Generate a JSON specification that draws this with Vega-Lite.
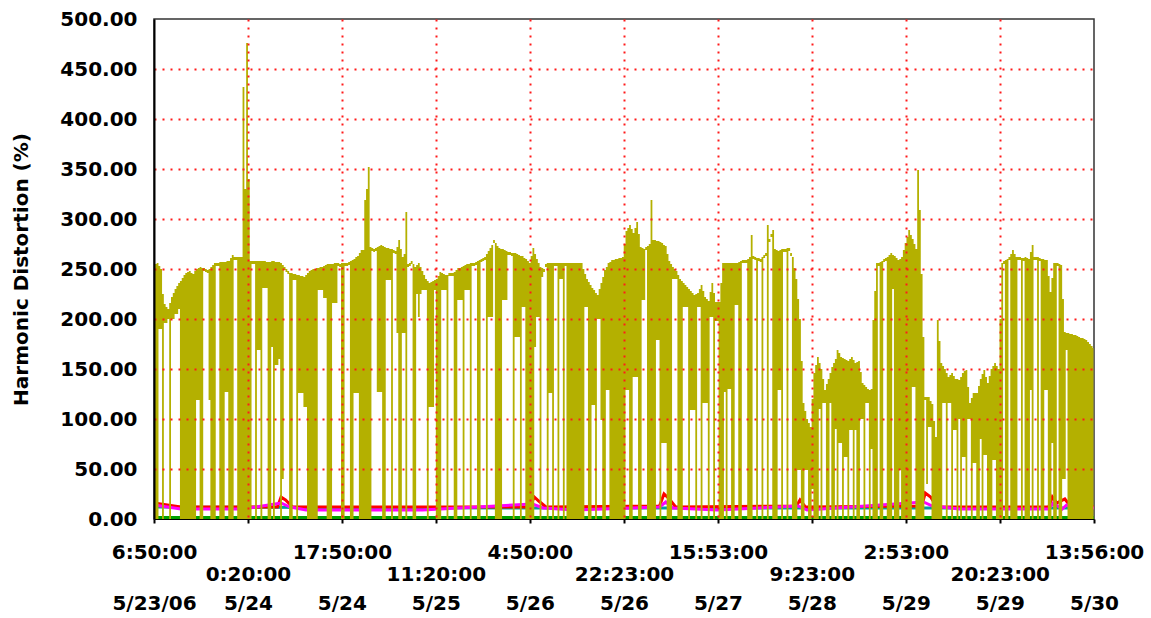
{
  "$schema": "https://vega.github.io/schema/vega-lite/v6.json",
  "width": 940,
  "height": 500,
  "autosize": {"type": "none"},
  "padding": {"left": 154, "top": 19, "right": 57, "bottom": 99},
  "background": "white",
  "config": {
    "view": {"stroke": "#333333", "strokeWidth": 1.5},
    "font": "DejaVu Sans"
  },
  "datasets": {
    "low": [
      {"min": 0, "series": "Navy", "pct": 110}, {"min": 20, "series": "Navy", "pct": 1}, {"min": 10506, "series": "Navy", "pct": 1},
      {"min": 0, "series": "Green", "pct": 1.5}, {"min": 10506, "series": "Green", "pct": 1.5},
      {"min": 0, "series": "Cyan", "pct": 18}, {"min": 40, "series": "Cyan", "pct": 12}, {"min": 4300, "series": "Cyan", "pct": 11}, {"min": 10506, "series": "Cyan", "pct": 11},
      {"min": 0, "series": "Red", "pct": 16}, {"min": 300, "series": "Red", "pct": 12}, {"min": 1380, "series": "Red", "pct": 12}, {"min": 1420, "series": "Red", "pct": 22}, {"min": 1470, "series": "Red", "pct": 19}, {"min": 1550, "series": "Red", "pct": 12},
      {"min": 4200, "series": "Red", "pct": 12}, {"min": 4250, "series": "Red", "pct": 22}, {"min": 4300, "series": "Red", "pct": 18}, {"min": 4380, "series": "Red", "pct": 12},
      {"min": 5650, "series": "Red", "pct": 13}, {"min": 5700, "series": "Red", "pct": 25}, {"min": 5760, "series": "Red", "pct": 20}, {"min": 5830, "series": "Red", "pct": 12},
      {"min": 7180, "series": "Red", "pct": 13}, {"min": 7220, "series": "Red", "pct": 19}, {"min": 7280, "series": "Red", "pct": 12},
      {"min": 8580, "series": "Red", "pct": 13}, {"min": 8620, "series": "Red", "pct": 26}, {"min": 8680, "series": "Red", "pct": 22}, {"min": 8750, "series": "Red", "pct": 12},
      {"min": 10000, "series": "Red", "pct": 12}, {"min": 10040, "series": "Red", "pct": 22}, {"min": 10090, "series": "Red", "pct": 16}, {"min": 10180, "series": "Red", "pct": 20}, {"min": 10250, "series": "Red", "pct": 12}, {"min": 10506, "series": "Red", "pct": 12},
      {"min": 0, "series": "Magenta", "pct": 14}, {"min": 300, "series": "Magenta", "pct": 10}, {"min": 1000, "series": "Magenta", "pct": 10}, {"min": 1420, "series": "Magenta", "pct": 16}, {"min": 1520, "series": "Magenta", "pct": 12}, {"min": 1700, "series": "Magenta", "pct": 9},
      {"min": 3000, "series": "Magenta", "pct": 9}, {"min": 4230, "series": "Magenta", "pct": 15}, {"min": 4350, "series": "Magenta", "pct": 11}, {"min": 4700, "series": "Magenta", "pct": 9},
      {"min": 5650, "series": "Magenta", "pct": 12}, {"min": 5720, "series": "Magenta", "pct": 17}, {"min": 5800, "series": "Magenta", "pct": 11}, {"min": 6300, "series": "Magenta", "pct": 9},
      {"min": 7200, "series": "Magenta", "pct": 13}, {"min": 7300, "series": "Magenta", "pct": 9}, {"min": 8600, "series": "Magenta", "pct": 17}, {"min": 8700, "series": "Magenta", "pct": 13}, {"min": 9000, "series": "Magenta", "pct": 10},
      {"min": 10000, "series": "Magenta", "pct": 10}, {"min": 10050, "series": "Magenta", "pct": 16}, {"min": 10150, "series": "Magenta", "pct": 10}, {"min": 10200, "series": "Magenta", "pct": 14}, {"min": 10300, "series": "Magenta", "pct": 11}, {"min": 10506, "series": "Magenta", "pct": 11}
    ],
    "thd": [
      {"min":0,"pct":255,"lo":0},{"min":20,"pct":255,"lo":0},{"min":40,"pct":256,"lo":0},{"min":60,"pct":253,"lo":190},{"min":80,"pct":250,"lo":190},{"min":100,"pct":225,"lo":0},{"min":120,"pct":215,"lo":196},{"min":140,"pct":212,"lo":196},{"min":160,"pct":210,"lo":200},{"min":180,"pct":216,"lo":0},
      {"min":200,"pct":222,"lo":200},{"min":220,"pct":226,"lo":200},{"min":240,"pct":230,"lo":205},{"min":260,"pct":233,"lo":205},{"min":280,"pct":236,"lo":210},{"min":300,"pct":238,"lo":0},{"min":320,"pct":241,"lo":0},{"min":340,"pct":244,"lo":0},{"min":360,"pct":246,"lo":0},{"min":380,"pct":247,"lo":0},
      {"min":400,"pct":248,"lo":0},{"min":420,"pct":246,"lo":0},{"min":440,"pct":245,"lo":0},{"min":460,"pct":248,"lo":0},{"min":480,"pct":250,"lo":119},{"min":500,"pct":251,"lo":119},{"min":520,"pct":252,"lo":0},{"min":540,"pct":251,"lo":0},{"min":560,"pct":251,"lo":248},{"min":580,"pct":250,"lo":247},
      {"min":600,"pct":249,"lo":246},{"min":620,"pct":250,"lo":119},{"min":640,"pct":252,"lo":0},{"min":660,"pct":254,"lo":0},{"min":680,"pct":256,"lo":0},{"min":700,"pct":256,"lo":253},{"min":720,"pct":256,"lo":253},{"min":740,"pct":257,"lo":0},{"min":760,"pct":257,"lo":0},{"min":780,"pct":257,"lo":0},
      {"min":800,"pct":257,"lo":127},{"min":820,"pct":258,"lo":127},{"min":840,"pct":258,"lo":0},{"min":860,"pct":261,"lo":0},{"min":880,"pct":264,"lo":0},{"min":900,"pct":262,"lo":259},{"min":920,"pct":262,"lo":259},{"min":940,"pct":262,"lo":0},{"min":960,"pct":262,"lo":0},{"min":980,"pct":262,"lo":0},
      {"min":1000,"pct":432,"lo":0},{"min":1020,"pct":330,"lo":0},{"min":1040,"pct":476,"lo":0},{"min":1060,"pct":340,"lo":0},{"min":1080,"pct":258,"lo":0},{"min":1100,"pct":258,"lo":255},{"min":1120,"pct":258,"lo":255},{"min":1140,"pct":258,"lo":0},{"min":1160,"pct":258,"lo":169},{"min":1180,"pct":258,"lo":169},
      {"min":1200,"pct":258,"lo":0},{"min":1220,"pct":258,"lo":231},{"min":1240,"pct":258,"lo":231},{"min":1260,"pct":257,"lo":231},{"min":1280,"pct":257,"lo":0},{"min":1300,"pct":257,"lo":0},{"min":1320,"pct":258,"lo":172},{"min":1340,"pct":258,"lo":0},{"min":1360,"pct":257,"lo":154},{"min":1380,"pct":257,"lo":154},
      {"min":1400,"pct":257,"lo":160},{"min":1420,"pct":256,"lo":0},{"min":1440,"pct":254,"lo":40},{"min":1460,"pct":252,"lo":249},{"min":1480,"pct":250,"lo":247},{"min":1500,"pct":248,"lo":245},{"min":1520,"pct":246,"lo":0},{"min":1540,"pct":246,"lo":0},{"min":1560,"pct":245,"lo":239},{"min":1580,"pct":245,"lo":239},
      {"min":1600,"pct":244,"lo":0},{"min":1620,"pct":244,"lo":126},{"min":1640,"pct":243,"lo":126},{"min":1660,"pct":243,"lo":126},{"min":1680,"pct":242,"lo":112},{"min":1700,"pct":244,"lo":112},{"min":1720,"pct":246,"lo":0},{"min":1740,"pct":248,"lo":0},{"min":1760,"pct":249,"lo":0},{"min":1780,"pct":250,"lo":0},
      {"min":1800,"pct":250,"lo":0},{"min":1820,"pct":251,"lo":0},{"min":1840,"pct":251,"lo":229},{"min":1860,"pct":252,"lo":229},{"min":1880,"pct":252,"lo":229},{"min":1900,"pct":253,"lo":221},{"min":1920,"pct":254,"lo":221},{"min":1940,"pct":255,"lo":0},{"min":1960,"pct":255,"lo":0},{"min":1980,"pct":255,"lo":0},
      {"min":2000,"pct":255,"lo":216},{"min":2020,"pct":256,"lo":216},{"min":2040,"pct":256,"lo":216},{"min":2060,"pct":256,"lo":253},{"min":2080,"pct":255,"lo":252},{"min":2100,"pct":256,"lo":0},{"min":2120,"pct":256,"lo":0},{"min":2140,"pct":256,"lo":253},{"min":2160,"pct":256,"lo":253},{"min":2180,"pct":257,"lo":254},
      {"min":2200,"pct":258,"lo":0},{"min":2220,"pct":259,"lo":0},{"min":2240,"pct":260,"lo":126},{"min":2260,"pct":262,"lo":126},{"min":2280,"pct":263,"lo":126},{"min":2300,"pct":266,"lo":0},{"min":2320,"pct":269,"lo":0},{"min":2340,"pct":269,"lo":0},{"min":2360,"pct":319,"lo":0},{"min":2380,"pct":330,"lo":0},
      {"min":2400,"pct":352,"lo":0},{"min":2420,"pct":272,"lo":0},{"min":2440,"pct":271,"lo":268},{"min":2460,"pct":270,"lo":267},{"min":2480,"pct":271,"lo":268},{"min":2500,"pct":272,"lo":127},{"min":2520,"pct":273,"lo":127},{"min":2540,"pct":274,"lo":127},{"min":2560,"pct":273,"lo":0},{"min":2580,"pct":272,"lo":0},
      {"min":2600,"pct":271,"lo":239},{"min":2620,"pct":271,"lo":239},{"min":2640,"pct":270,"lo":239},{"min":2660,"pct":270,"lo":0},{"min":2680,"pct":269,"lo":266},{"min":2700,"pct":268,"lo":265},{"min":2720,"pct":272,"lo":186},{"min":2740,"pct":279,"lo":0},{"min":2760,"pct":270,"lo":0},{"min":2780,"pct":262,"lo":186},
      {"min":2800,"pct":265,"lo":186},{"min":2820,"pct":307,"lo":0},{"min":2840,"pct":255,"lo":252},{"min":2860,"pct":256,"lo":253},{"min":2880,"pct":258,"lo":255},{"min":2900,"pct":255,"lo":0},{"min":2920,"pct":252,"lo":0},{"min":2940,"pct":254,"lo":225},{"min":2960,"pct":256,"lo":202},{"min":2980,"pct":252,"lo":225},
      {"min":3000,"pct":248,"lo":229},{"min":3020,"pct":244,"lo":229},{"min":3040,"pct":240,"lo":229},{"min":3060,"pct":238,"lo":0},{"min":3080,"pct":236,"lo":112},{"min":3100,"pct":237,"lo":112},{"min":3120,"pct":238,"lo":112},{"min":3140,"pct":239,"lo":229},{"min":3160,"pct":240,"lo":0},{"min":3180,"pct":243,"lo":0},
      {"min":3200,"pct":247,"lo":0},{"min":3220,"pct":246,"lo":229},{"min":3240,"pct":245,"lo":229},{"min":3260,"pct":244,"lo":229},{"min":3280,"pct":244,"lo":0},{"min":3300,"pct":246,"lo":243},{"min":3320,"pct":246,"lo":243},{"min":3340,"pct":246,"lo":243},{"min":3360,"pct":247,"lo":0},{"min":3380,"pct":249,"lo":0},
      {"min":3400,"pct":251,"lo":219},{"min":3420,"pct":251,"lo":219},{"min":3440,"pct":252,"lo":219},{"min":3460,"pct":253,"lo":0},{"min":3480,"pct":254,"lo":229},{"min":3500,"pct":255,"lo":229},{"min":3520,"pct":255,"lo":229},{"min":3540,"pct":256,"lo":0},{"min":3560,"pct":256,"lo":253},{"min":3580,"pct":256,"lo":253},
      {"min":3600,"pct":257,"lo":254},{"min":3620,"pct":258,"lo":0},{"min":3640,"pct":259,"lo":0},{"min":3660,"pct":260,"lo":257},{"min":3680,"pct":261,"lo":258},{"min":3700,"pct":262,"lo":259},{"min":3720,"pct":265,"lo":0},{"min":3740,"pct":268,"lo":202},{"min":3760,"pct":271,"lo":202},{"min":3780,"pct":274,"lo":202},
      {"min":3800,"pct":279,"lo":276},{"min":3820,"pct":276,"lo":0},{"min":3840,"pct":273,"lo":0},{"min":3860,"pct":271,"lo":0},{"min":3880,"pct":270,"lo":0},{"min":3900,"pct":270,"lo":219},{"min":3920,"pct":269,"lo":219},{"min":3940,"pct":268,"lo":219},{"min":3960,"pct":267,"lo":264},{"min":3980,"pct":267,"lo":264},
      {"min":4000,"pct":266,"lo":263},{"min":4020,"pct":266,"lo":0},{"min":4040,"pct":266,"lo":182},{"min":4060,"pct":265,"lo":182},{"min":4080,"pct":264,"lo":182},{"min":4100,"pct":263,"lo":0},{"min":4120,"pct":263,"lo":212},{"min":4140,"pct":261,"lo":212},{"min":4160,"pct":260,"lo":0},{"min":4180,"pct":258,"lo":0},
      {"min":4200,"pct":256,"lo":0},{"min":4220,"pct":263,"lo":0},{"min":4240,"pct":271,"lo":0},{"min":4260,"pct":265,"lo":172},{"min":4280,"pct":260,"lo":202},{"min":4300,"pct":256,"lo":202},{"min":4320,"pct":252,"lo":0},{"min":4340,"pct":251,"lo":242},{"min":4360,"pct":250,"lo":247},{"min":4380,"pct":255,"lo":252},
      {"min":4400,"pct":256,"lo":0},{"min":4420,"pct":256,"lo":126},{"min":4440,"pct":256,"lo":126},{"min":4460,"pct":256,"lo":0},{"min":4480,"pct":256,"lo":253},{"min":4500,"pct":256,"lo":253},{"min":4520,"pct":256,"lo":0},{"min":4540,"pct":256,"lo":240},{"min":4560,"pct":256,"lo":240},{"min":4580,"pct":256,"lo":0},
      {"min":4600,"pct":256,"lo":253},{"min":4620,"pct":256,"lo":0},{"min":4640,"pct":256,"lo":0},{"min":4660,"pct":256,"lo":0},{"min":4680,"pct":256,"lo":0},{"min":4700,"pct":256,"lo":0},{"min":4720,"pct":256,"lo":0},{"min":4740,"pct":256,"lo":0},{"min":4760,"pct":256,"lo":0},{"min":4780,"pct":256,"lo":0},
      {"min":4800,"pct":250,"lo":0},{"min":4820,"pct":245,"lo":212},{"min":4840,"pct":240,"lo":212},{"min":4860,"pct":237,"lo":0},{"min":4880,"pct":234,"lo":0},{"min":4900,"pct":231,"lo":114},{"min":4920,"pct":229,"lo":114},{"min":4940,"pct":226,"lo":0},{"min":4960,"pct":224,"lo":200},{"min":4980,"pct":230,"lo":200},
      {"min":5000,"pct":236,"lo":99},{"min":5020,"pct":242,"lo":0},{"min":5040,"pct":249,"lo":0},{"min":5060,"pct":252,"lo":129},{"min":5080,"pct":256,"lo":129},{"min":5100,"pct":257,"lo":0},{"min":5120,"pct":259,"lo":0},{"min":5140,"pct":259,"lo":0},{"min":5160,"pct":260,"lo":0},{"min":5180,"pct":260,"lo":0},
      {"min":5200,"pct":261,"lo":0},{"min":5220,"pct":261,"lo":0},{"min":5240,"pct":262,"lo":0},{"min":5260,"pct":275,"lo":0},{"min":5280,"pct":288,"lo":129},{"min":5300,"pct":291,"lo":129},{"min":5320,"pct":294,"lo":0},{"min":5340,"pct":290,"lo":0},{"min":5360,"pct":286,"lo":142},{"min":5380,"pct":291,"lo":142},
      {"min":5400,"pct":297,"lo":142},{"min":5420,"pct":285,"lo":0},{"min":5440,"pct":272,"lo":0},{"min":5460,"pct":271,"lo":219},{"min":5480,"pct":270,"lo":219},{"min":5500,"pct":272,"lo":269},{"min":5520,"pct":273,"lo":0},{"min":5540,"pct":275,"lo":0},{"min":5560,"pct":319,"lo":0},{"min":5580,"pct":279,"lo":0},
      {"min":5600,"pct":279,"lo":0},{"min":5620,"pct":278,"lo":179},{"min":5640,"pct":278,"lo":179},{"min":5660,"pct":277,"lo":0},{"min":5680,"pct":276,"lo":76},{"min":5700,"pct":274,"lo":76},{"min":5720,"pct":273,"lo":76},{"min":5740,"pct":265,"lo":0},{"min":5760,"pct":258,"lo":0},{"min":5780,"pct":255,"lo":0},
      {"min":5800,"pct":252,"lo":240},{"min":5820,"pct":250,"lo":240},{"min":5840,"pct":248,"lo":240},{"min":5860,"pct":244,"lo":0},{"min":5880,"pct":240,"lo":0},{"min":5900,"pct":238,"lo":0},{"min":5920,"pct":236,"lo":212},{"min":5940,"pct":234,"lo":212},{"min":5960,"pct":232,"lo":212},{"min":5980,"pct":230,"lo":0},
      {"min":6000,"pct":228,"lo":109},{"min":6020,"pct":226,"lo":109},{"min":6040,"pct":224,"lo":109},{"min":6060,"pct":225,"lo":0},{"min":6080,"pct":226,"lo":212},{"min":6100,"pct":230,"lo":212},{"min":6120,"pct":234,"lo":0},{"min":6140,"pct":228,"lo":116},{"min":6160,"pct":222,"lo":116},{"min":6180,"pct":220,"lo":116},
      {"min":6200,"pct":218,"lo":0},{"min":6220,"pct":227,"lo":202},{"min":6240,"pct":236,"lo":202},{"min":6260,"pct":226,"lo":0},{"min":6280,"pct":217,"lo":198},{"min":6300,"pct":217,"lo":198},{"min":6320,"pct":217,"lo":0},{"min":6340,"pct":236,"lo":0},{"min":6360,"pct":256,"lo":0},{"min":6380,"pct":256,"lo":127},
      {"min":6400,"pct":256,"lo":0},{"min":6420,"pct":256,"lo":130},{"min":6440,"pct":256,"lo":130},{"min":6460,"pct":256,"lo":0},{"min":6480,"pct":256,"lo":0},{"min":6500,"pct":256,"lo":214},{"min":6520,"pct":256,"lo":214},{"min":6540,"pct":257,"lo":0},{"min":6560,"pct":258,"lo":0},{"min":6580,"pct":259,"lo":256},
      {"min":6600,"pct":259,"lo":256},{"min":6620,"pct":259,"lo":256},{"min":6640,"pct":260,"lo":0},{"min":6660,"pct":262,"lo":0},{"min":6680,"pct":284,"lo":0},{"min":6700,"pct":263,"lo":260},{"min":6720,"pct":262,"lo":259},{"min":6740,"pct":261,"lo":0},{"min":6760,"pct":261,"lo":258},{"min":6780,"pct":260,"lo":257},
      {"min":6800,"pct":262,"lo":0},{"min":6820,"pct":264,"lo":261},{"min":6840,"pct":266,"lo":263},{"min":6860,"pct":294,"lo":0},{"min":6880,"pct":280,"lo":277},{"min":6900,"pct":285,"lo":282},{"min":6920,"pct":289,"lo":0},{"min":6940,"pct":270,"lo":0},{"min":6960,"pct":269,"lo":0},{"min":6980,"pct":268,"lo":129},
      {"min":7000,"pct":269,"lo":129},{"min":7020,"pct":270,"lo":0},{"min":7040,"pct":270,"lo":267},{"min":7060,"pct":270,"lo":267},{"min":7080,"pct":271,"lo":0},{"min":7100,"pct":271,"lo":268},{"min":7120,"pct":266,"lo":263},{"min":7140,"pct":262,"lo":0},{"min":7160,"pct":251,"lo":0},{"min":7180,"pct":240,"lo":0},
      {"min":7200,"pct":220,"lo":49},{"min":7220,"pct":200,"lo":49},{"min":7240,"pct":158,"lo":0},{"min":7260,"pct":116,"lo":0},{"min":7280,"pct":108,"lo":49},{"min":7300,"pct":100,"lo":49},{"min":7320,"pct":96,"lo":0},{"min":7340,"pct":92,"lo":0},{"min":7360,"pct":120,"lo":30},{"min":7380,"pct":146,"lo":0},
      {"min":7400,"pct":154,"lo":0},{"min":7420,"pct":162,"lo":0},{"min":7440,"pct":156,"lo":110},{"min":7460,"pct":150,"lo":0},{"min":7480,"pct":140,"lo":116},{"min":7500,"pct":129,"lo":116},{"min":7520,"pct":135,"lo":0},{"min":7540,"pct":140,"lo":0},{"min":7560,"pct":146,"lo":116},{"min":7580,"pct":152,"lo":0},
      {"min":7600,"pct":156,"lo":0},{"min":7620,"pct":160,"lo":90},{"min":7640,"pct":169,"lo":0},{"min":7660,"pct":166,"lo":76},{"min":7680,"pct":162,"lo":76},{"min":7700,"pct":161,"lo":0},{"min":7720,"pct":160,"lo":62},{"min":7740,"pct":159,"lo":62},{"min":7760,"pct":158,"lo":0},{"min":7780,"pct":160,"lo":89},
      {"min":7800,"pct":162,"lo":89},{"min":7820,"pct":159,"lo":0},{"min":7840,"pct":156,"lo":89},{"min":7860,"pct":157,"lo":0},{"min":7880,"pct":158,"lo":0},{"min":7900,"pct":147,"lo":100},{"min":7920,"pct":136,"lo":100},{"min":7940,"pct":134,"lo":0},{"min":7960,"pct":132,"lo":116},{"min":7980,"pct":130,"lo":116},
      {"min":8000,"pct":129,"lo":0},{"min":8020,"pct":130,"lo":70},{"min":8040,"pct":199,"lo":0},{"min":8060,"pct":228,"lo":0},{"min":8080,"pct":256,"lo":0},{"min":8100,"pct":256,"lo":253},{"min":8120,"pct":257,"lo":0},{"min":8140,"pct":258,"lo":0},{"min":8160,"pct":260,"lo":257},{"min":8180,"pct":261,"lo":258},
      {"min":8200,"pct":262,"lo":0},{"min":8220,"pct":264,"lo":0},{"min":8240,"pct":266,"lo":0},{"min":8260,"pct":264,"lo":230},{"min":8280,"pct":263,"lo":0},{"min":8300,"pct":261,"lo":0},{"min":8320,"pct":259,"lo":0},{"min":8340,"pct":260,"lo":49},{"min":8360,"pct":262,"lo":0},{"min":8380,"pct":269,"lo":0},
      {"min":8400,"pct":276,"lo":0},{"min":8420,"pct":282,"lo":0},{"min":8440,"pct":289,"lo":0},{"min":8460,"pct":284,"lo":0},{"min":8480,"pct":280,"lo":132},{"min":8500,"pct":275,"lo":132},{"min":8520,"pct":270,"lo":0},{"min":8540,"pct":349,"lo":0},{"min":8560,"pct":309,"lo":0},{"min":8580,"pct":245,"lo":0},
      {"min":8600,"pct":182,"lo":0},{"min":8620,"pct":122,"lo":119},{"min":8640,"pct":122,"lo":35},{"min":8660,"pct":122,"lo":92},{"min":8680,"pct":118,"lo":92},{"min":8700,"pct":115,"lo":0},{"min":8720,"pct":98,"lo":0},{"min":8740,"pct":82,"lo":0},{"min":8760,"pct":199,"lo":0},{"min":8780,"pct":178,"lo":0},
      {"min":8800,"pct":156,"lo":0},{"min":8820,"pct":153,"lo":116},{"min":8840,"pct":150,"lo":116},{"min":8860,"pct":146,"lo":0},{"min":8880,"pct":142,"lo":116},{"min":8900,"pct":144,"lo":116},{"min":8920,"pct":146,"lo":0},{"min":8940,"pct":143,"lo":89},{"min":8960,"pct":140,"lo":89},{"min":8980,"pct":140,"lo":0},
      {"min":9000,"pct":139,"lo":100},{"min":9020,"pct":142,"lo":0},{"min":9040,"pct":146,"lo":62},{"min":9060,"pct":148,"lo":62},{"min":9080,"pct":149,"lo":0},{"min":9100,"pct":132,"lo":100},{"min":9120,"pct":116,"lo":100},{"min":9140,"pct":121,"lo":0},{"min":9160,"pct":126,"lo":56},{"min":9180,"pct":126,"lo":56},
      {"min":9200,"pct":126,"lo":0},{"min":9220,"pct":133,"lo":0},{"min":9240,"pct":140,"lo":80},{"min":9260,"pct":145,"lo":0},{"min":9280,"pct":149,"lo":64},{"min":9300,"pct":142,"lo":64},{"min":9320,"pct":136,"lo":0},{"min":9340,"pct":143,"lo":0},{"min":9360,"pct":150,"lo":0},{"min":9380,"pct":153,"lo":59},
      {"min":9400,"pct":156,"lo":59},{"min":9420,"pct":153,"lo":0},{"min":9440,"pct":150,"lo":0},{"min":9460,"pct":200,"lo":0},{"min":9480,"pct":256,"lo":0},{"min":9500,"pct":258,"lo":255},{"min":9520,"pct":259,"lo":0},{"min":9540,"pct":260,"lo":0},{"min":9560,"pct":262,"lo":259},{"min":9580,"pct":265,"lo":0},
      {"min":9600,"pct":269,"lo":0},{"min":9620,"pct":265,"lo":0},{"min":9640,"pct":262,"lo":0},{"min":9660,"pct":262,"lo":259},{"min":9680,"pct":262,"lo":259},{"min":9700,"pct":261,"lo":0},{"min":9720,"pct":261,"lo":258},{"min":9740,"pct":262,"lo":0},{"min":9760,"pct":261,"lo":0},{"min":9780,"pct":260,"lo":0},
      {"min":9800,"pct":267,"lo":129},{"min":9820,"pct":274,"lo":0},{"min":9840,"pct":262,"lo":259},{"min":9860,"pct":262,"lo":259},{"min":9880,"pct":262,"lo":0},{"min":9900,"pct":261,"lo":258},{"min":9920,"pct":260,"lo":0},{"min":9940,"pct":260,"lo":0},{"min":9960,"pct":259,"lo":129},{"min":9980,"pct":259,"lo":129},
      {"min":10000,"pct":243,"lo":0},{"min":10020,"pct":227,"lo":0},{"min":10040,"pct":241,"lo":76},{"min":10060,"pct":256,"lo":0},{"min":10080,"pct":256,"lo":0},{"min":10100,"pct":256,"lo":253},{"min":10120,"pct":255,"lo":0},{"min":10140,"pct":254,"lo":0},{"min":10160,"pct":220,"lo":40},{"min":10180,"pct":187,"lo":40},
      {"min":10200,"pct":186,"lo":169},{"min":10220,"pct":186,"lo":0},{"min":10240,"pct":185,"lo":0},{"min":10260,"pct":185,"lo":0},{"min":10280,"pct":184,"lo":0},{"min":10300,"pct":184,"lo":0},{"min":10320,"pct":183,"lo":0},{"min":10340,"pct":182,"lo":0},{"min":10360,"pct":181,"lo":0},{"min":10380,"pct":181,"lo":0},
      {"min":10400,"pct":180,"lo":0},{"min":10420,"pct":179,"lo":0},{"min":10440,"pct":177,"lo":0},{"min":10460,"pct":175,"lo":0},{"min":10480,"pct":173,"lo":0},{"min":10500,"pct":171,"lo":0}
    ]
  },
  "encoding": {
    "y": {
      "field": "pct",
      "type": "quantitative",
      "scale": {"domain": [0, 500], "nice": false},
      "axis": {
        "title": "Harmonic Distortion (%)",
        "values": [0, 50, 100, 150, 200, 250, 300, 350, 400, 450, 500],
        "format": ".2f",
        "labelFont": "DejaVu Sans",
        "labelFontWeight": "bold",
        "labelFontSize": 20,
        "labelColor": "#000000",
        "labelPadding": 17,
        "ticks": false,
        "tickSize": 0,
        "domainColor": "#000000",
        "domainWidth": 2,
        "grid": true,
        "gridColor": "#FF1A1A",
        "gridDash": [2, 6],
        "gridWidth": 2,
        "gridOpacity": {"condition": {"test": "datum.value==0 || datum.value==500", "value": 0}, "value": 1},
        "titleFont": "DejaVu Sans",
        "titleFontWeight": "bold",
        "titleFontSize": 20,
        "titleColor": "#000000",
        "titlePadding": 28,
        "zindex": 1
      }
    }
  },
  "resolve": {"axis": {"x": "independent"}},
  "layer": [
    {
      "data": {"name": "low"},
      "mark": {"type": "line", "strokeWidth": 3, "clip": true},
      "encoding": {
        "x": {
          "field": "min",
          "type": "quantitative",
          "scale": {"domain": [0, 10506], "nice": false, "zero": false},
          "axis": {
            "orient": "bottom",
            "title": null,
            "values": [0, 1050, 2100, 3150, 4200, 5253, 6303, 7353, 8403, 9453, 10506],
            "labelExpr": "datum.value==0 ? '5/23/06' : timeFormat(datetime(2006,4,23,6,50+datum.value),'%-m/%-d')",
            "labelFont": "DejaVu Sans",
            "labelFontWeight": "bold",
            "labelFontSize": 20,
            "labelColor": "#000000",
            "labelOverlap": false,
            "labelFlush": false,
            "labelBound": false,
            "labelBaseline": "top",
            "labelAlign": "center",
            "labelPadding": 74.5,
            "ticks": false,
            "tickSize": 0,
            "domain": false,
            "grid": false
          }
        },
        "color": {
          "field": "series",
          "type": "nominal",
          "scale": {"domain": ["Navy", "Green", "Cyan", "Red", "Magenta"], "range": ["#000080", "#00A000", "#00A0A0", "#FF0000", "#FF00FF"]},
          "legend": null
        }
      }
    },
    {
      "data": {"name": "thd"},
      "mark": {"type": "area", "interpolate": "step", "color": "#B4B000", "opacity": 1, "clip": true},
      "encoding": {
        "x": {
          "field": "min",
          "type": "quantitative",
          "scale": {"domain": [0, 10506], "nice": false, "zero": false},
          "axis": {
            "orient": "bottom",
            "title": null,
            "values": [0, 1050, 2100, 3150, 4200, 5253, 6303, 7353, 8403, 9453, 10506],
            "labelExpr": "timeFormat(datetime(2006,4,23,6,50+datum.value),'%-H:%M:%S')",
            "labelFont": "DejaVu Sans",
            "labelFontWeight": "bold",
            "labelFontSize": 20,
            "labelColor": "#000000",
            "labelOverlap": false,
            "labelFlush": false,
            "labelBound": false,
            "labelBaseline": "top",
            "labelAlign": "center",
            "labelPadding": {"condition": {"test": "round(datum.value/1050.6)%2==1", "value": 41.5}, "value": 19.5},
            "ticks": true,
            "tickSize": 4,
            "tickWidth": 2,
            "tickColor": "#000000",
            "domainColor": "#000000",
            "domainWidth": 1,
            "grid": true,
            "gridColor": "#FF1A1A",
            "gridDash": [2, 6],
            "gridWidth": 2,
            "gridOpacity": {"condition": {"test": "datum.value==0 || datum.value==10506", "value": 0}, "value": 1},
            "zindex": 1
          }
        },
        "y2": {"field": "lo"}
      }
    }
  ]
}
